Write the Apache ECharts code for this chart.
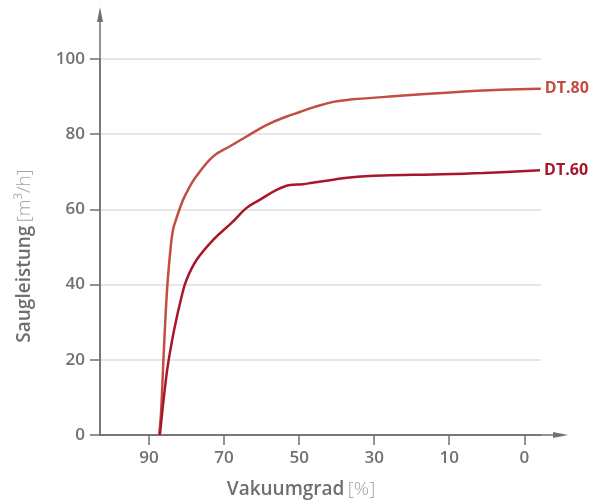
<!DOCTYPE html>
<html>
<head>
<meta charset="utf-8">
<script src="https://cdn.jsdelivr.net/npm/echarts@6/dist/echarts.min.js"></script>
<style>html,body{margin:0;padding:0;background:#fff}#c{width:595px;height:503px}</style>
</head>
<body>
<div id="c"></div>
<script>
// Tick labels of the (non-linear, evenly spaced) Vakuumgrad axis
const xTicks = [90, 70, 50, 30, 10, 0];
const yTicks = [0, 20, 40, 60, 80, 100];
const seriesNames = ['DT.80', 'DT.60'];
// Vakuumgrad [%] and Saugleistung [m3/h]
const dt80Vak = [87.3, 86.8, 86.2, 85.55, 85.0, 84.2, 83.6, 82.8, 81.7, 80.9, 79.6, 77.7, 72.9, 68.4, 64.0, 58.6, 53.3, 49.8, 46.0, 40.9, 36.5, 23.1, 9.9, 3.2, -2.2];
const dt80Val = [0, 5.9, 19.1, 32.5, 41.3, 50.2, 54.6, 57.3, 60.5, 62.6, 65.2, 68.4, 74.1, 76.8, 79.4, 82.5, 84.7, 85.9, 87.2, 88.6, 89.2, 90.2, 91.1, 91.8, 92.1];
const dt60Vak = [87.1, 86.5, 85.5, 84.9, 83.3, 81.3, 80.0, 77.3, 72.9, 68.0, 64.0, 60.4, 56.0, 52.4, 49.0, 46.5, 40.9, 36.5, 27.6, 14.2, 5.5, -2.1];
const dt60Val = [0, 5.9, 14.7, 19.1, 28.0, 36.9, 41.3, 46.6, 51.9, 56.4, 60.4, 62.6, 65.2, 66.5, 66.7, 67.1, 67.9, 68.5, 69.0, 69.3, 69.7, 70.4];
const colors = ['#c14d43', '#a8162c'];

// axis transform: ticks are evenly spaced, piecewise-linear between them
function toSlot(v) {
  for (let i = 0; i < xTicks.length - 1; i++) {
    const a = xTicks[i], b = xTicks[i + 1];
    if (v >= b || i === xTicks.length - 2) return i + (a - v) / (a - b);
  }
}
function pairs(xs, ys) { return xs.map((x, i) => [toSlot(x), ys[i]]); }

const FONT = 'Open Sans';
const AX = '#707070';
const plotTop = 59, plotBottom = 68, arrowTop = 14.5;
const chart = echarts.init(document.getElementById('c'), null, {renderer: 'canvas'});
chart.setOption({
  animation: false,
  grid: [
    {left: 100, right: 54, top: plotTop, bottom: plotBottom},
    {left: 100, right: 34.5, top: arrowTop, bottom: plotBottom}
  ],
  xAxis: [
    {
      type: 'value', gridIndex: 0, min: -0.653, max: 5.2225,
      axisLine: {show: true, onZero: false, lineStyle: {color: AX, width: 1.5}}, splitLine: {show: false},
      axisTick: {show: true, customValues: xTicks.map((_, i) => i), length: 10, lineStyle: {color: AX, width: 1.5}},
      axisLabel: {customValues: xTicks.map((_, i) => i), formatter: v => String(xTicks[Math.round(v)]), margin: 15,
        color: AX, fontFamily: FONT, fontWeight: 600, fontSize: 17}
    },
    {
      type: 'value', gridIndex: 1, min: 0, max: 1,
      axisLine: {show: true, onZero: false, symbol: ['none', 'triangle'], symbolSize: [6, 15], lineStyle: {color: AX, width: 1.5}},
      axisTick: {show: false}, axisLabel: {show: false}, splitLine: {show: false}
    }
  ],
  yAxis: [
    {
      type: 'value', gridIndex: 0, min: yTicks[0], max: yTicks[yTicks.length - 1], interval: 20,
      axisLine: {show: true, onZero: false, lineStyle: {color: AX, width: 1.5}},
      axisTick: {show: true, inside: false, length: 10, lineStyle: {color: AX, width: 1.5}},
      splitLine: {show: true, lineStyle: {color: '#dedede', width: 1.5}},
      axisLabel: {margin: 15, color: AX, fontFamily: FONT, fontWeight: 600, fontSize: 17}
    },
    {
      type: 'value', gridIndex: 1, min: 0, max: 1,
      axisLine: {show: true, onZero: false, symbol: ['none', 'triangle'], symbolSize: [6, 15], lineStyle: {color: AX, width: 1.5}},
      axisTick: {show: false}, axisLabel: {show: false}, splitLine: {show: false}
    },
    {
      // tick marks just left of the vertical axis
      type: 'value', gridIndex: 0, min: yTicks[0], max: yTicks[yTicks.length - 1], interval: 20, offset: 10, position: 'left',
      axisLine: {show: false, onZero: false},
      axisTick: {show: true, inside: true, length: 10, lineStyle: {color: AX, width: 1.5}},
      axisLabel: {show: false}, splitLine: {show: false}
    }
  ],
  series: [
    {name: seriesNames[0], type: 'line', xAxisIndex: 0, yAxisIndex: 0, data: pairs(dt80Vak, dt80Val),
      smooth: 0.4, showSymbol: false, lineStyle: {color: colors[0], width: 2.5}, itemStyle: {color: colors[0]},
      endLabel: {show: true, formatter: '{a}', distance: 4, color: colors[0], fontFamily: FONT, fontWeight: 'bold', fontSize: 16}},
    {name: seriesNames[1], type: 'line', xAxisIndex: 0, yAxisIndex: 0, data: pairs(dt60Vak, dt60Val),
      smooth: 0.4, showSymbol: false, lineStyle: {color: colors[1], width: 2.5}, itemStyle: {color: colors[1]},
      endLabel: {show: true, formatter: '{a}', distance: 4, color: colors[1], fontFamily: FONT, fontWeight: 'bold', fontSize: 16}}
  ],
  graphic: [
    {type: 'text', x: 25, y: 256, rotation: Math.PI / 2,
      style: {text: '{a|Saugleistung} {b|[m³/h]}', align: 'center', verticalAlign: 'middle',
        rich: {a: {fontFamily: FONT, fontWeight: 600, fontSize: 19, fill: '#6e6e6e'}, b: {fontFamily: FONT, fontWeight: 300, fontSize: 19, fill: '#a3a3a3'}}}},
    {type: 'text', x: 301, y: 490,
      style: {text: '{a|Vakuumgrad} {b|[%]}', align: 'center', verticalAlign: 'middle',
        rich: {a: {fontFamily: FONT, fontWeight: 600, fontSize: 19, fill: '#6e6e6e'}, b: {fontFamily: FONT, fontWeight: 300, fontSize: 19, fill: '#a3a3a3'}}}}
  ]
});
</script>
</body>
</html>
